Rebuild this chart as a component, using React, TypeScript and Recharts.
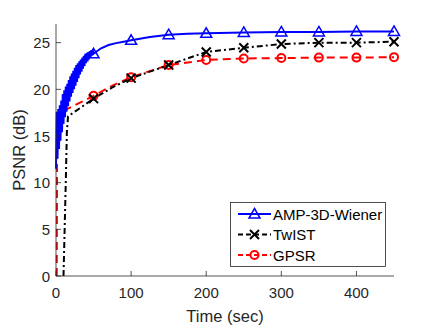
import React from 'react';
import { LineChart, Line, XAxis, YAxis, Legend } from 'recharts';

// AMP-3D-Wiener (noisy at the start)
const ampTime = [
  0, 1, 2, 3, 4, 5, 6, 7, 8, 9, 10, 11, 12, 13, 14, 15, 16, 17, 18, 19, 20, 21, 22, 23, 24, 25,
  26, 27, 28, 29, 30, 31, 32, 33, 34, 35, 36, 37, 38, 39, 40, 41, 42, 43, 44, 45, 46, 47, 48, 49, 50,
  55, 60, 70, 80, 90, 100, 125, 150, 175, 200, 250, 300, 350, 400, 450,
];
const ampPsnr = [
  11.5, 17.6, 12.6, 17.9, 13.6, 18.3, 14.5, 18.8, 15.4, 19.5, 16.3, 19.9, 17.0, 20.3, 17.6, 20.6,
  18.2, 21.0, 18.7, 21.4, 19.2, 21.7, 19.6, 22.0, 20.0, 22.3, 20.4, 22.6, 20.8, 22.8, 21.2, 23.0,
  21.6, 23.2, 21.9, 23.4, 22.2, 23.6, 22.5, 23.8, 22.8, 23.9, 23.0, 24.0, 23.2, 24.1, 23.4, 24.2,
  23.6, 24.2, 23.8,
  24.1, 24.4, 24.75, 24.95, 25.1, 25.25, 25.6, 25.85, 25.95, 26.0, 26.1, 26.15, 26.15, 26.2, 26.2,
];

const twistTime = [10, 13, 14.5, 16, 25, 50, 75, 100, 125, 150, 175, 200, 250, 300, 350, 400, 450];
const twistPsnr = [0, 10, 15.5, 17.1, 17.6, 19.0, 20.2, 21.2, 21.9, 22.6, 23.3, 24.0, 24.45, 24.85, 25.0, 25.0, 25.1];

const gpsrTime = [1, 1.5, 2, 5, 10, 20, 30, 40, 50, 75, 100, 150, 200, 250, 300, 350, 400, 450];
const gpsrPsnr = [0, 15, 17.3, 17.5, 17.7, 18.1, 18.5, 18.9, 19.3, 20.4, 21.3, 22.6, 23.15, 23.3, 23.35, 23.4, 23.4, 23.45];

const markerTimes = [50, 100, 150, 200, 250, 300, 350, 400, 450];
const xTicks = [0, 100, 200, 300, 400];
const yTicks = [0, 5, 10, 15, 20, 25];

const zip = (ts: number[], vs: number[]) => ts.map((t, i) => ({ t, v: vs[i] }));
const ampData = zip(ampTime, ampPsnr);
const twistData = zip(twistTime, twistPsnr);
const gpsrData = zip(gpsrTime, gpsrPsnr);

const FONT = '"Liberation Sans", Arial, Helvetica, sans-serif';
const AXIS = '#262626';

const Tri = ({ x, y }: { x: number; y: number }) => (
  <path d={`M${x},${y - 5.5} L${x + 5.5},${y + 4} L${x - 5.5},${y + 4} Z`} fill="none" stroke="#0000ff" strokeWidth={1.5} />
);
const Cross = ({ x, y }: { x: number; y: number }) => (
  <path d={`M${x - 4.5},${y - 4.5} L${x + 4.5},${y + 4.5} M${x - 4.5},${y + 4.5} L${x + 4.5},${y - 4.5}`} stroke="#000" strokeWidth={2} />
);
const Circ = ({ x, y }: { x: number; y: number }) => (
  <circle cx={x} cy={y} r={4} fill="none" stroke="#ff0000" strokeWidth={2} />
);

const makeDot = (Marker: any) => (props: any) => {
  const { cx, cy, payload, index } = props;
  if (!markerTimes.includes(payload.t)) return <g key={`d-${index}`} />;
  return <g key={`d-${index}`}><Marker x={cx} y={cy} /></g>;
};

const XTick = ({ x, y, payload }: any) => (
  <g>
    <line x1={x} x2={x} y1={y} y2={y - 5} stroke={AXIS} strokeWidth={0.8} />
    <text x={x} y={y + 22} textAnchor="middle" fill={AXIS} fontSize={15} fontFamily={FONT}>{payload.value}</text>
  </g>
);

const YTick = ({ x, y, payload }: any) => (
  <g>
    <line x1={x} x2={x + 5} y1={y} y2={y} stroke={AXIS} strokeWidth={0.8} />
    <text x={x - 6} y={y + 5.5} textAnchor="end" fill={AXIS} fontSize={15} fontFamily={FONT}>{payload.value}</text>
  </g>
);

const series = [
  { name: 'AMP-3D-Wiener', color: '#0000ff', dash: undefined, Marker: Tri },
  { name: 'TwIST', color: '#000000', dash: '6 3 2 3', Marker: Cross },
  { name: 'GPSR', color: '#ff0000', dash: '8 5', Marker: Circ },
];

const LegendBox = () => (
  <svg width={156} height={65} style={{ display: 'block' }}>
    <rect x={0.5} y={0.5} width={155} height={64} fill="#fff" stroke={AXIS} strokeWidth={0.8} />
    {series.map((s, i) => {
      const cy = 12 + i * 20.5;
      return (
        <g key={s.name}>
          <line x1={8} x2={41} y1={cy} y2={cy} stroke={s.color} strokeWidth={2} strokeDasharray={s.dash ? '5 3' : undefined} />
          <s.Marker x={24.5} y={cy} />
          <text x={43} y={cy + 5.5} fontSize={15} fontFamily={FONT} fill="#000">{s.name}</text>
        </g>
      );
    })}
  </svg>
);

export default function App() {
  return (
    <div style={{ position: 'absolute', left: 0, top: 0, width: 436, height: 327, background: '#fff' }}>
      <LineChart width={436} height={327} margin={{ top: 24, right: 42, left: 0, bottom: 0 }}>
        <XAxis
          xAxisId="b"
          type="number"
          dataKey="t"
          domain={[0, 450]}
          ticks={xTicks}
          height={51}
          tickSize={0}
          tickMargin={0}
          tickLine={false}
          tick={<XTick />}
          axisLine={{ stroke: AXIS, strokeWidth: 0.8 }}
          label={{ value: 'Time (sec)', position: 'insideBottom', offset: 5, fill: AXIS, fontSize: 16.5, fontFamily: FONT }}
        />
        <XAxis
          xAxisId="t"
          orientation="top"
          type="number"
          dataKey="t"
          domain={[0, 450]}
          ticks={xTicks}
          mirror
          height={0}
          tick={false}
          tickSize={5}
          tickLine={{ stroke: AXIS, strokeWidth: 0.8 }}
          axisLine={{ stroke: AXIS, strokeWidth: 0.8 }}
        />
        <YAxis
          yAxisId="l"
          type="number"
          domain={[0, 27]}
          ticks={yTicks}
          width={56}
          tickSize={0}
          tickMargin={0}
          tickLine={false}
          tick={<YTick />}
          axisLine={{ stroke: AXIS, strokeWidth: 0.8 }}
          label={{ value: 'PSNR (dB)', angle: -90, position: 'insideLeft', offset: 19, fill: AXIS, fontSize: 16.5, fontFamily: FONT, style: { textAnchor: 'middle' } }}
        />
        <YAxis
          yAxisId="r"
          orientation="right"
          type="number"
          domain={[0, 27]}
          ticks={yTicks}
          mirror
          width={0}
          tick={false}
          tickSize={5}
          tickLine={{ stroke: AXIS, strokeWidth: 0.8 }}
          axisLine={{ stroke: AXIS, strokeWidth: 0.8 }}
        />
        <Legend
          layout="vertical"
          align="center"
          verticalAlign="middle"
          content={<LegendBox />}
          wrapperStyle={{ left: 230, top: 202, width: 156, height: 65 }}
        />
        <Line xAxisId="b" yAxisId="l" data={gpsrData} dataKey="v" name="GPSR" type="linear" stroke="#ff0000" strokeWidth={2}
          strokeDasharray="8 5" dot={makeDot(Circ)} activeDot={false} isAnimationActive={false} />
        <Line xAxisId="b" yAxisId="l" data={twistData} dataKey="v" name="TwIST" type="linear" stroke="#000000" strokeWidth={2}
          strokeDasharray="6 3 2 3" dot={makeDot(Cross)} activeDot={false} isAnimationActive={false} />
        <Line xAxisId="b" yAxisId="l" data={ampData} dataKey="v" name="AMP-3D-Wiener" type="linear" stroke="#0000ff" strokeWidth={2}
          dot={makeDot(Tri)} activeDot={false} isAnimationActive={false} />
      </LineChart>
    </div>
  );
}
